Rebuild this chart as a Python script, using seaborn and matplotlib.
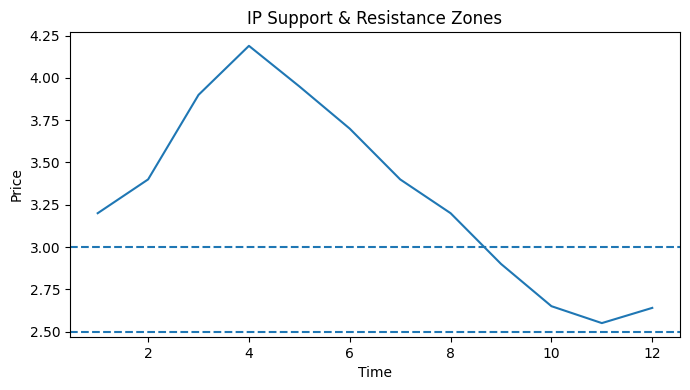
import matplotlib
matplotlib.use("Agg")
import matplotlib.pyplot as plt
import seaborn as sns
import pandas as pd

time = [1, 2, 3, 4, 5, 6, 7, 8, 9, 10, 11, 12]
price = [3.20, 3.40, 3.90, 4.19, 3.95, 3.70, 3.40, 3.20, 2.90, 2.65, 2.55, 2.64]
resistance = 3.0
support = 2.5

df = pd.DataFrame({"Time": time, "Price": price})

fig, ax = plt.subplots(figsize=(6.9, 3.9), dpi=100)
sns.lineplot(data=df, x="Time", y="Price", ax=ax)
ax.axhline(resistance, linestyle="--")
ax.axhline(support, linestyle="--")
ax.set_title("IP Support & Resistance Zones")
ax.set_xlabel("Time")
ax.set_ylabel("Price")
fig.subplots_adjust(left=0.1014, right=0.9855, top=0.918, bottom=0.136)
fig.savefig("out.png", dpi=100)
